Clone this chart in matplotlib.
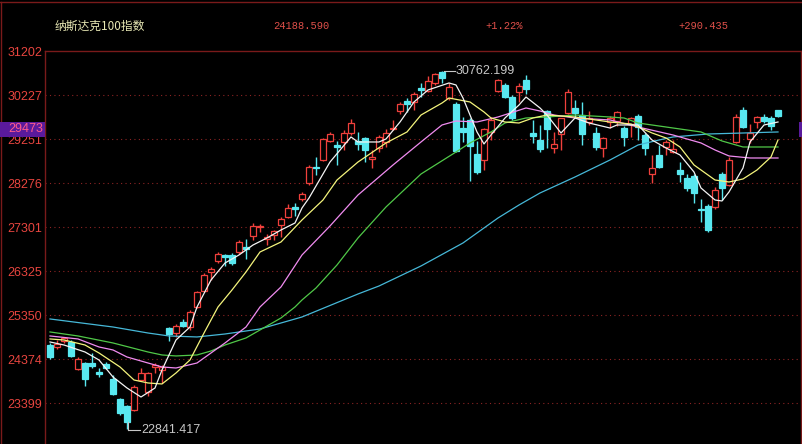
import numpy as np
import matplotlib.pyplot as plt
from matplotlib.patches import Rectangle
from matplotlib.lines import Line2D
import matplotlib.transforms as mtransforms

plt.rcParams['font.family'] = ['Liberation Sans', 'DejaVu Sans']

# header
title = '纳斯达克100指数'
hdr_price = '24188.590'
hdr_pct = '+1.22%'
hdr_chg = '+290.435'

yticks = [31202, 30227, 29251, 28276, 27301, 26325, 25350, 24374, 23399]
cur_price = 29473
hi_label, hi_idx, hi_val = '30762.199', 56, 30762.199
lo_label, lo_idx, lo_val = '22841.417', 11, 22841.417

# daily candles
opens = [24687, 24643, 24776, 24754, 24154, 24287, 24287, 24088, 24265, 23932,
         23488, 23333, 23244, 23910, 23644, 24199, 24132, 25064, 24953, 25198,
         25087, 25531, 25886, 26308, 26552, 26685, 26685, 26752, 26863, 27107,
         27307, 27040, 27129, 27351, 27528, 27750, 27929, 28284, 28639, 28795,
         29217, 29128, 29195, 29395, 29217, 29283, 28817, 29061, 29195, 29483,
         29883, 30105, 30083, 30393, 30327, 30504, 30740, 30171, 30038, 29505,
         29683, 28928, 28795, 29417, 30327, 30460, 30194, 30305, 30571, 29395,
         29239, 29883, 29061, 29372, 29838, 29949, 29794, 29639, 29395, 29061,
         29639, 29661, 29505, 29594, 29772, 29350, 28484, 28906, 29084, 28972,
         28573, 28395, 28439, 27706, 27773, 27750, 28484, 28240, 29195, 29905,
         29261, 29639, 29749, 29727, 29905]
highs = [24731, 24798, 24865, 24798, 24421, 24310, 24509, 24176, 24310, 24021,
         23510, 23355, 23799, 24176, 24088, 24287, 24243, 25087, 25153, 25264,
         25464, 25886, 26285, 26418, 26752, 26707, 26729, 27018, 27040, 27395,
         27373, 27151, 27240, 27528, 27817, 27839, 28085, 28684, 28861, 29283,
         29417, 29217, 29461, 29705, 29417, 29306, 29017, 29350, 29483, 29683,
         30083, 30171, 30305, 30504, 30660, 30726, 30762.199, 30504, 30083, 29749,
         29727, 29217, 29505, 29749, 30593, 30504, 30238, 30504, 30682, 29683,
         29572, 29905, 29417, 29727, 30371, 30127, 30083, 29883, 29528, 29306,
         29772, 29883, 29550, 29749, 29816, 29395, 28906, 29128, 29239, 29239,
         28750, 28484, 28484, 27929, 27817, 28196, 28528, 28861, 29816, 29972,
         29594, 29772, 29816, 29772, 29905]
lows = [24376, 24598, 24731, 24421, 24132, 23777, 24176, 23977, 24154, 23577,
        23133, 22841.417, 23222, 23888, 23555, 24065, 23843, 24776, 24864, 25087,
        25020, 25509, 25864, 26130, 26507, 26441, 26463, 26707, 26596, 27018,
        27196, 26907, 27018, 27085, 27506, 27551, 27884, 28240, 28462, 28773,
        29195, 28684, 29017, 29350, 29017, 28750, 28617, 28972, 29084, 29461,
        29816, 29861, 29905, 30194, 30305, 30460, 30504, 30127, 28972, 29195,
        28328, 28484, 28573, 29239, 30305, 30171, 29683, 30083, 30260, 29173,
        28972, 29061, 28950, 29017, 29816, 29727, 29128, 29572, 29017, 28861,
        29505, 29550, 29106, 29306, 29239, 28906, 28284, 28617, 28906, 28950,
        28306, 28107, 27840, 27418, 27196, 27706, 27907, 28218, 29173, 29505,
        29173, 29505, 29616, 29461, 29749]
closes = [24421, 24709, 24842, 24443, 24376, 23932, 24221, 24043, 24176, 23599,
          23177, 22978, 23754, 24065, 24065, 24243, 24199, 24931, 25109, 25109,
          25420, 25864, 26241, 26374, 26707, 26641, 26507, 26974, 26818, 27329,
          27329, 27085, 27218, 27484, 27728, 27706, 28040, 28639, 28617, 29261,
          29372, 29084, 29395, 29616, 29150, 29017, 28861, 29306, 29395, 29505,
          30038, 30038, 30260, 30349, 30549, 30704, 30615, 30416, 28995, 29417,
          29106, 28528, 29483, 29683, 30571, 30194, 29727, 30438, 30371, 29328,
          29039, 29483, 29150, 29727, 30305, 29838, 29372, 29727, 29084, 29283,
          29727, 29861, 29306, 29727, 29528, 29061, 28617, 28639, 29195, 29039,
          28484, 28173, 28063, 27684, 27240, 28129, 28173, 28795, 29749, 29528,
          29395, 29749, 29661, 29550, 29772]

# moving averages (at these candle indices)
ma5_idx = [0, 2, 5, 7, 9, 11, 13, 15, 16, 18, 20, 21, 23, 25, 27, 29, 31, 33, 35, 36,
           37, 40, 43, 44, 47, 48, 50, 52, 54, 57, 58, 59, 60, 61, 62, 63, 65, 67, 68,
           70, 71, 73, 75, 77, 80, 81, 84, 86, 88, 90, 92, 93, 95, 96, 97, 99, 100,
           102, 104]
ma5_val = [24762, 24695, 24540, 24363, 23986, 23742, 23542, 23742, 24141, 24806,
           25094, 25538, 26136, 26513, 26691, 26912, 27068, 27245, 27400, 27733,
           27954, 28752, 29307, 29196, 29196, 29263, 29639, 30083, 30349, 30504,
           30460, 30171, 29794, 29418, 29152, 29351, 29728, 30016, 30193, 29950,
           29794, 29395, 29728, 29617, 29506, 29573, 29573, 29240, 29063, 28908,
           28531, 28176, 27910, 27888, 28088, 28619, 29196, 29573, 29639]
ma10_idx = [0, 2, 5, 7, 10, 12, 14, 16, 18, 20, 22, 24, 26, 28, 30, 33, 36, 39, 41,
            44, 48, 51, 53, 56, 57, 60, 62, 63, 65, 67, 69, 71, 75, 80, 83, 86, 88,
            90, 92, 95, 97, 99, 101, 103, 104]
ma10_val = [24829, 24806, 24695, 24518, 24208, 23919, 23853, 23831, 24075, 24363,
            24961, 25538, 25915, 26314, 26757, 26979, 27467, 27910, 28353, 28752,
            29174, 29418, 29794, 30060, 30171, 30083, 29861, 29728, 29639, 29617,
            29728, 29794, 29750, 29639, 29595, 29396, 29285, 29085, 28686, 28353,
            28309, 28376, 28575, 28863, 29240]
ma20_idx = [0, 4, 7, 9, 11, 14, 16, 18, 21, 23, 25, 28, 30, 33, 36, 40, 44, 49, 53,
            56, 58, 61, 64, 68, 70, 72, 75, 80, 84, 89, 93, 95, 97, 100, 104]
ma20_val = [24895, 24829, 24651, 24585, 24429, 24296, 24208, 24185, 24296, 24518,
            24740, 25094, 25538, 25982, 26691, 27334, 28021, 28686, 29196, 29573,
            29661, 29639, 29750, 29950, 29883, 29794, 29728, 29684, 29528, 29351,
            29174, 29019, 28886, 28841, 28841]
ma30_idx = [0, 4, 9, 14, 16, 18, 21, 23, 25, 28, 30, 33, 35, 36, 38, 41, 44, 48, 53,
            58, 60, 63, 65, 68, 71, 75, 80, 82, 84, 89, 93, 96, 99, 101, 104]
ma30_val = [24984, 24895, 24740, 24540, 24474, 24452, 24474, 24562, 24695, 24851,
            25028, 25294, 25538, 25693, 25959, 26469, 27068, 27755, 28486, 28974,
            29174, 29418, 29617, 29728, 29750, 29794, 29750, 29728, 29617, 29506,
            29418, 29218, 29085, 29085, 29085]
ma60_idx = [0, 9, 14, 17, 21, 25, 30, 36, 44, 47, 53, 59, 64, 67, 70, 75, 80, 84,
            87, 89, 94, 99, 104]
ma60_val = [25272, 25094, 24961, 24895, 24873, 24939, 25050, 25316, 25826, 26003,
            26447, 26957, 27511, 27799, 28065, 28420, 28797, 29129, 29240, 29307,
            29373, 29395, 29418]

W, H = 803, 444
fig = plt.figure(figsize=(W / 100, H / 100), dpi=100, facecolor='black')
ax = fig.add_axes([45 / W, 0, 756 / W, 392.5 / H], facecolor='black')

frame = '#7a1a1a'
up_col = '#f0403c'
dn_col = '#58e8f0'

# grid
for t in yticks[1:]:
    ax.axhline(t, color='#8c2424', lw=0.8, ls=(0, (1, 3)), zorder=1)

bw = 0.74
for i, (o, h, l, c) in enumerate(zip(opens, highs, lows, closes)):
    up = c >= o
    col = up_col if up else dn_col
    ax.vlines(i, l, h, color=col, lw=1, zorder=2)
    lo, hi = min(o, c), max(o, c)
    if hi - lo < 30:
        hi = lo + 30
    ax.add_patch(Rectangle((i - bw / 2, lo), bw, hi - lo,
                           facecolor='black' if up else dn_col,
                           edgecolor=col, lw=0.9, zorder=3))

ax.plot(ma60_idx, ma60_val, color='#46b8d8', lw=0.9, zorder=4)
ax.plot(ma30_idx, ma30_val, color='#50c848', lw=0.9, zorder=4)
ax.plot(ma20_idx, ma20_val, color='#f08cf0', lw=0.9, zorder=4)
ax.plot(ma10_idx, ma10_val, color='#f4f47c', lw=0.9, zorder=4)
ax.plot(ma5_idx, ma5_val, color='#f4f4f4', lw=0.9, zorder=5)

# high / low markers
lab_col = '#c8c8c8'
ax.plot([hi_idx + 0.3, hi_idx + 1.85], [hi_val, hi_val], color=lab_col, lw=0.8, zorder=6)
ax.text(hi_idx + 2.0, hi_val, hi_label, color=lab_col, fontsize=9,
        va='center', ha='left', zorder=6)
ax.plot([lo_idx + 0.15, lo_idx + 1.85], [lo_val - 20, lo_val - 20], color=lab_col, lw=0.8, zorder=6)
ax.plot([lo_idx + 0.15, lo_idx + 0.15], [lo_val - 20, lo_val + 140], color=lab_col, lw=0.8, zorder=6)
ax.text(lo_idx + 2.0, lo_val - 20, lo_label, color=lab_col, fontsize=9,
        va='center', ha='left', zorder=6)

ax.set_xlim(-5 / 7, 751 / 7)
ax.set_ylim(22500, 31202)
ax.set_xticks([])
ax.set_yticks(yticks)
ax.set_yticklabels([str(t) for t in yticks])
ax.tick_params(axis='y', length=0, pad=2, labelcolor='#e8453f', labelsize=9)
for s in ['left', 'top', 'right']:
    ax.spines[s].set_color(frame)
    ax.spines[s].set_linewidth(1)
ax.spines['bottom'].set_visible(False)

# current price tag on the axis
tr = mtransforms.blended_transform_factory(fig.transFigure, ax.transData)
fig.patches.append(Rectangle((0, cur_price - 170), 45 / W, 340, transform=tr,
                             facecolor='#5a1a9c', edgecolor='none', zorder=10))
fig.patches.append(Rectangle((799 / W, cur_price - 170), 4 / W, 340, transform=tr,
                             facecolor='#5a1a9c', edgecolor='none', zorder=10))
fig.text(43 / W, cur_price, str(cur_price), transform=tr, color='#ff5a8c',
         fontsize=9, ha='right', va='center', zorder=11)

# header and outer frame
fig.add_artist(Line2D([0, 1], [1 - 2 / H, 1 - 2 / H], color=frame, lw=1))
fig.add_artist(Line2D([1 / W, 1 / W], [0, 1 - 2 / H], color=frame, lw=1))
fig.text(55 / W, 1 - 26 / H, title, color='#e8e8b4', fontsize=8.5, va='center',
         family=['Noto Sans CJK SC', 'DejaVu Sans'])
mono = ['Liberation Mono', 'DejaVu Sans Mono']
fig.text(273 / W, 1 - 26 / H, hdr_price, color='#e0504a', fontsize=7.5, va='center', family=mono)
fig.text(485 / W, 1 - 26 / H, hdr_pct, color='#e0504a', fontsize=7.5, va='center', family=mono)
fig.text(678 / W, 1 - 26 / H, hdr_chg, color='#e0504a', fontsize=7.5, va='center', family=mono)

fig.savefig('out.png', dpi=100, facecolor='black')
